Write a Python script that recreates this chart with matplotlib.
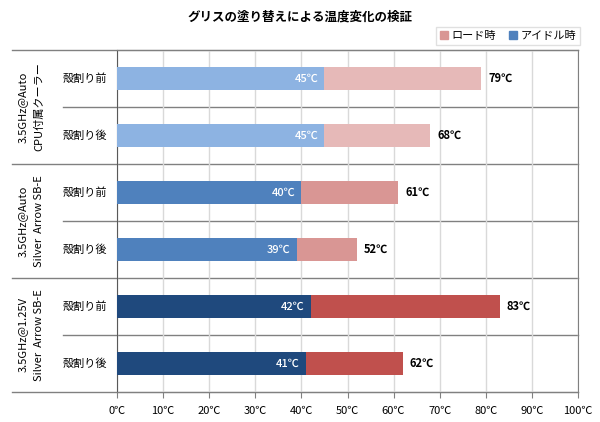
import matplotlib
matplotlib.use("Agg")
import matplotlib.pyplot as plt
import matplotlib.transforms as mtransforms
from matplotlib.patches import Patch

plt.rcParams['font.family'] = ['Noto Sans CJK JP', 'DejaVu Sans']

groups = ["3.5GHz@Auto\nCPU付属クーラー", "3.5GHz@Auto\nSilver  Arrow SB-E", "3.5GHz@1.25V\nSilver  Arrow SB-E"]
rows = ["殻割り前", "殻割り後", "殻割り前", "殻割り後", "殻割り前", "殻割り後"]
idle = [45, 45, 40, 39, 42, 41]
load = [79, 68, 61, 52, 83, 62]
idle_colors = ["#8DB3E2", "#8DB3E2", "#4F81BD", "#4F81BD", "#1F497D", "#1F497D"]
load_colors = ["#E6B9B8", "#E6B9B8", "#D99694", "#D99694", "#C0504D", "#C0504D"]
xticks = list(range(0, 101, 10))

fig = plt.figure(figsize=(6, 4.22), dpi=100)
ax = fig.add_axes([117/600, 30/422, 461/600, 342/422])

y = list(range(len(rows)))
ax.barh(y, load, height=0.4, color=load_colors, zorder=2)
ax.barh(y, idle, height=0.4, color=idle_colors, zorder=3)

for yi, i_val, l_val in zip(y, idle, load):
    ax.text(i_val - 1.3, yi, f"{i_val}℃", color="white", ha="right", va="center",
            fontsize=8, fontweight="medium", zorder=4)
    ax.text(l_val + 1.5, yi, f"{l_val}℃", color="black", ha="left", va="center",
            fontsize=8, fontweight="bold", zorder=4)

ax.set_xlim(0, 100)
ax.set_ylim(len(rows) - 0.5, -0.5)
ax.set_xticks(xticks)
ax.set_xticklabels([f"{t}℃" for t in xticks], fontsize=8)
ax.set_yticks([])
ax.tick_params(axis='x', length=4, color="#808080", pad=6)
ax.grid(axis='x', color="#D9D9D9", linewidth=1, zorder=0)
for s in ["top", "right", "bottom"]:
    ax.spines[s].set_color("#808080")
ax.spines["left"].set_color("#595959")

trans = mtransforms.blended_transform_factory(ax.transAxes, ax.transData)
x_group = (12 - 117) / 461
x_row = (63 - 117) / 461
for k in range(len(rows) + 1):
    yk = k - 0.5
    x0 = x_group if k % 2 == 0 else x_row
    ax.plot([x0, 1], [yk, yk], transform=trans, color="#808080", linewidth=1,
            clip_on=False, zorder=1)

for yi, name in zip(y, rows):
    ax.text((85 - 117) / 461, yi, name, transform=trans, ha="center", va="center",
            fontsize=8)

for g, name in enumerate(groups):
    ax.text((31 - 117) / 461, 2 * g + 0.5, name, transform=trans, ha="center",
            va="center", rotation=90, fontsize=8, linespacing=1.8)

fig.text(0.5, 1 - 17/422, "グリスの塗り替えによる温度変化の検証", ha="center", va="center",
         fontsize=9, fontweight="bold")

handles = [Patch(color="#D99694", label="ロード時"), Patch(color="#4F81BD", label="アイドル時")]
leg = fig.legend(handles=handles, loc="center", bbox_to_anchor=(508/600, 1 - 36/422),
                 ncol=2, fontsize=8, frameon=True, fancybox=False, handlelength=0.7,
                 handleheight=0.7, handletextpad=0.3, columnspacing=1.2,
                 borderpad=0.4, edgecolor="#D9D9D9")
leg.get_frame().set_linewidth(1)

fig.savefig("out.png", dpi=100)
